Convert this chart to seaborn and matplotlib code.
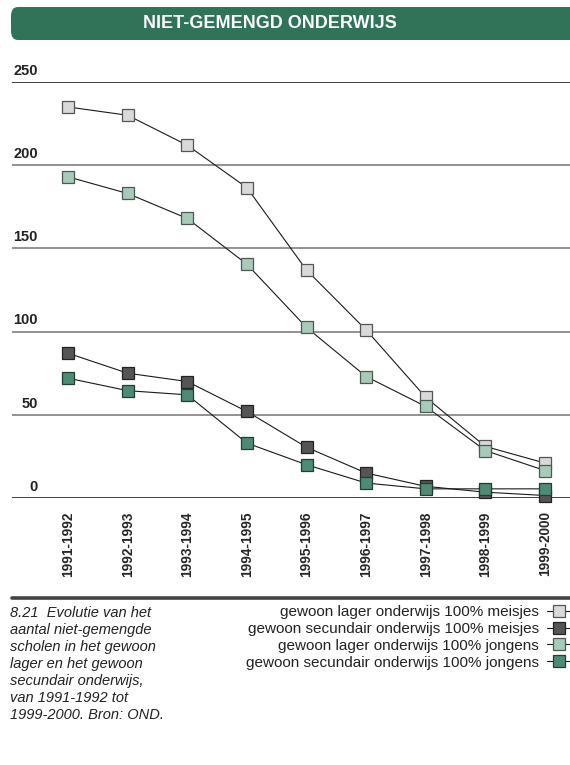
import pandas as pd
import matplotlib.pyplot as plt
import seaborn as sns
from matplotlib.patches import FancyBboxPatch
from matplotlib.lines import Line2D
from matplotlib.transforms import blended_transform_factory

# data
years = ['1991-1992', '1992-1993', '1993-1994', '1994-1995', '1995-1996',
         '1996-1997', '1997-1998', '1998-1999', '1999-2000']
lager_meisjes = [235, 230, 212, 186.5, 137, 101, 60.5, 31, 21]
secundair_meisjes = [87, 75, 70, 52, 30.5, 15, 7, 3.5, 1.5]
lager_jongens = [193, 183, 168, 140.5, 102.5, 73, 55, 28.5, 16.5]
secundair_jongens = [72, 64.5, 62, 33, 20, 9, 5.5, 5.5, 5.5]

series = ['gewoon lager onderwijs 100% meisjes',
          'gewoon secundair onderwijs 100% meisjes',
          'gewoon lager onderwijs 100% jongens',
          'gewoon secundair onderwijs 100% jongens']
values = [lager_meisjes, secundair_meisjes, lager_jongens, secundair_jongens]
face = ['#d9d9d9', '#555555', '#a9c9b9', '#4f8b74']
edge = ['#555555', '#222222', '#4a5a52', '#1f3f33']

rows = []
for s, v in zip(series, values):
    for i, val in enumerate(v):
        rows.append({'serie': s, 'x': i, 'aantal': val})
df = pd.DataFrame(rows)

sns.set_style('white')
plt.rcParams['font.family'] = ['Liberation Sans', 'DejaVu Sans']

fig = plt.figure(figsize=(5.7, 7.65), dpi=100)
W, H = 570, 765
ax = fig.add_axes([12 / W, (H - 498) / H, 1 - 12 / W, 416 / H])

for y in [50, 100, 150, 200]:
    ax.axhline(y, color='#808080', lw=1.2, zorder=0)
for y in [0, 250]:
    ax.axhline(y, color='#333333', lw=1.3, zorder=0)

for s, fc, ec in zip(series, face, edge):
    sns.lineplot(data=df[df['serie'] == s], x='x', y='aantal', ax=ax,
                 color='#1a1a1a', lw=0.8, marker='s', markersize=8,
                 markerfacecolor=fc, markeredgecolor=ec, markeredgewidth=0.9,
                 label=s, sort=False, clip_on=False)

ax.set_xlim(-0.94, 8.42)
ax.set_ylim(0, 250)
sns.despine(ax=ax, left=True, bottom=True, top=True, right=True)
ax.set_xlabel('')
ax.set_ylabel('')
ax.set_xticks(range(len(years)))
ax.set_xticklabels(years, rotation=90, fontsize=9.8, fontweight='bold', va='top')
ax.tick_params(axis='x', length=0, pad=9.5)
ax.set_yticks([])

trans = blended_transform_factory(ax.transAxes, ax.transData)
for y in [0, 50, 100, 150, 200, 250]:
    ax.annotate(str(y), xy=(26 / 558, y), xycoords=trans, xytext=(0, 3),
                textcoords='offset points', ha='right', va='bottom',
                fontsize=10.5, fontweight='bold', color='#222222')

# header
fig.add_artist(FancyBboxPatch((11 / W, (H - 40) / H), 600 / W, 33 / H,
                              boxstyle='round,pad=0,rounding_size=0.012',
                              transform=fig.transFigure, facecolor='#2f7359',
                              edgecolor='none'))
fig.text(270 / W, (H - 24) / H, 'NIET-GEMENGD ONDERWIJS', color='white',
         fontsize=13, fontweight='bold', ha='center', va='center')

# separator
fig.add_artist(Line2D([12 / W, 1], [(H - 598) / H] * 2, color='#444444',
                      lw=2.6, transform=fig.transFigure))

caption = ('8.21  Evolutie van het\naantal niet-gemengde\nscholen in het gewoon\n'
           'lager en het gewoon\nsecundair onderwijs,\nvan 1991-1992 tot\n'
           '1999-2000. Bron: OND.')
fig.text(10 / W, (H - 606) / H, caption, style='italic', fontsize=10.5,
         color='#222222', ha='left', va='top', linespacing=1.27)

handles, labels = ax.get_legend_handles_labels()
ax.legend(handles, labels, markerfirst=False, frameon=False, fontsize=11,
          loc='upper right', bbox_to_anchor=(571 / W, (H - 605) / H),
          bbox_transform=fig.transFigure, handlelength=1.6, handletextpad=0.5,
          labelspacing=0.19, borderaxespad=0, borderpad=0,
          labelcolor='#222222')

fig.savefig('out.png', dpi=100)
